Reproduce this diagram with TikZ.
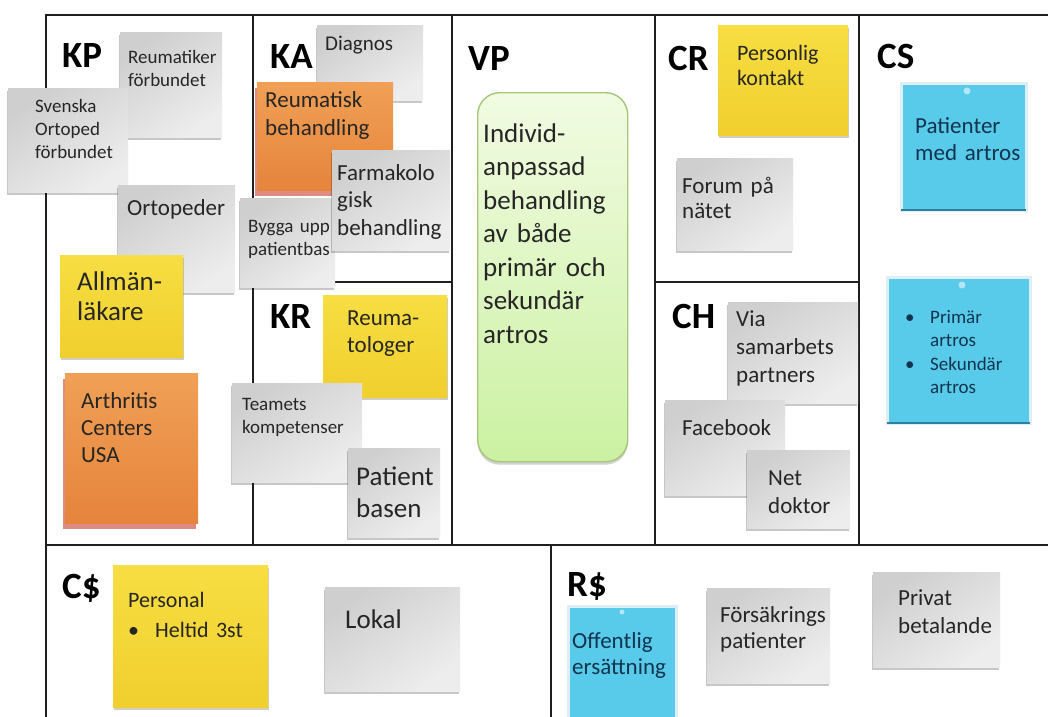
\documentclass[tikz,border=0pt]{standalone}
\usepackage{fontspec}
\setmainfont{Carlito}
\usetikzlibrary{shadows}

\definecolor{ink}{HTML}{262626}
\definecolor{bluetext}{HTML}{12344F}
\definecolor{yel}{HTML}{F7DE42}
\definecolor{yeldark}{HTML}{F0CF2E}
\definecolor{org}{HTML}{F0A056}
\definecolor{orgdark}{HTML}{E6843C}
\definecolor{orgshadow}{HTML}{C8402A}
\definecolor{sky}{HTML}{58CAEA}
\definecolor{skyedge}{HTML}{2F7FA0}
\definecolor{skyhalo}{HTML}{DDEEF4}
\definecolor{vptop}{HTML}{F1FBE2}
\definecolor{vpbottom}{HTML}{CBF1A2}
\definecolor{vpedge}{HTML}{A8C67A}

\newcommand\notefont[2]{\fontsize{#1}{#2}\selectfont}

\begin{document}
\begin{tikzpicture}[x=1pt, y=-1pt,
  gridline/.style={line width=2.8pt, draw=black!88, line cap=rect},
  note/.style={rectangle, anchor=north west, inner sep=0pt, outer sep=0pt},
  greynote/.style={note, top color=black!19, bottom color=black!7, shading angle=35,
    drop shadow={shadow xshift=-1pt, shadow yshift=-3pt, opacity=.22, fill=black}},
  yellownote/.style={note, top color=yel, bottom color=yeldark,
    drop shadow={shadow xshift=1pt, shadow yshift=-3pt, opacity=.35, fill=black!60!yellow}},
  orangenote/.style={note, top color=org, bottom color=orgdark,
    drop shadow={shadow xshift=-2pt, shadow yshift=-6pt, opacity=.6, fill=orgshadow}},
  bluenote/.style={note, fill=sky, draw=skyhalo, line width=3pt},
  blueedge/.style={draw=skyedge, line width=2pt},
  thumbtack/.style={circle, inner sep=0pt, minimum size=7pt, fill=white!55!sky},
  notetext/.style={anchor=base west, inner sep=0pt, text width=170pt, align=left, text=ink},
  bluetextnode/.style={notetext, text=bluetext},
  boxtitle/.style={anchor=base west, inner sep=0pt, font=\bfseries\notefont{37}{40}, text=black},
  vpbox/.style={rectangle, rounded corners=22pt, anchor=north west, inner sep=0pt,
    top color=vptop, bottom color=vpbottom, draw=vpedge, line width=1.4pt,
    drop shadow={shadow xshift=0pt, shadow yshift=-3pt, opacity=.18, fill=black}},
]
\useasboundingbox (0,0) rectangle (1048,716);
\fill[white] (0,0) rectangle (1048,716);

% canvas grid
\draw[gridline] (46,15) -- (1048,15);
\draw[gridline] (46,15) -- (46,716);
\draw[gridline] (46,545) -- (1048,545);
\draw[gridline] (253,15) -- (253,545);
\draw[gridline] (452,15) -- (452,545);
\draw[gridline] (655,15) -- (655,545);
\draw[gridline] (859,15) -- (859,545);
\draw[gridline] (253,282) -- (452,282);
\draw[gridline] (655,282) -- (859,282);
\draw[gridline] (551,545) -- (551,716);

% block titles
\node[boxtitle] (tKP) at (62,67) {KP};
\node[boxtitle] (tKA) at (270,68) {KA};
\node[boxtitle] (tVP) at (468,70) {VP};
\node[boxtitle] (tCR) at (668,70) {CR};
\node[boxtitle] (tCS) at (877,68) {CS};
\node[boxtitle] (tKR) at (270,328) {KR};
\node[boxtitle] (tCH) at (672,328) {CH};
\node[boxtitle] (tCC) at (62,598) {C\$};
\node[boxtitle] (tRR) at (567,596) {R\$};

% ---------- key partners
\node[greynote, minimum width=102pt, minimum height=105pt] (nReumF) at (120,32) {};
\node[notetext, font=\notefont{19}{23}] (xReumF) at (128,63) {Reumatiker\\förbundet};
\node[greynote, minimum width=120pt, minimum height=104pt] (nSvOrt) at (8,88) {};
\node[notetext, font=\notefont{19}{23}] (xSvOrt) at (35,112) {Svenska\\Ortoped\\förbundet};
\node[greynote, minimum width=117pt, minimum height=107pt] (nOrto) at (118,185) {};
\node[notetext, font=\notefont{23}{28}] (xOrto) at (127,215) {Ortopeder};
\node[yellownote, minimum width=123pt, minimum height=102pt] (nAllm) at (60,255) {};
\node[notetext, font=\notefont{27}{30}] (xAllm) at (77,290) {Allmän-\\läkare};
\node[orangenote, minimum width=133pt, minimum height=150pt] (nArth) at (65,373) {};
\node[notetext, font=\notefont{23}{27}] (xArth) at (81,408) {Arthritis\\Centers\\USA};

% ---------- key activities
\node[greynote, minimum width=106pt, minimum height=75pt] (nDiag) at (317,25) {};
\node[notetext, font=\notefont{21}{25}] (xDiag) at (325,50) {Diagnos};
\node[orangenote, minimum width=136pt, minimum height=108pt] (nReumB) at (257,82) {};
\node[notetext, font=\notefont{23}{28}] (xReumB) at (265,107) {Reumatisk\\behandling};
\node[greynote, minimum width=95pt, minimum height=89pt] (nBygga) at (240,198) {};
\node[notetext, font=\notefont{19}{23}] (xBygga) at (248,232) {Bygga upp\\patientbas};
\node[greynote, minimum width=118pt, minimum height=100pt] (nFarm) at (332,150) {};
\node[notetext, font=\notefont{23}{27.5}] (xFarm) at (337,180) {Farmakolo\\gisk\\behandling};

% ---------- key resources
\node[yellownote, minimum width=124pt, minimum height=102pt] (nReuma) at (323,295) {};
\node[notetext, font=\notefont{23}{27}] (xReuma) at (347,325) {Reuma-\\tologer};
\node[greynote, minimum width=130pt, minimum height=99pt] (nTeam) at (232,383) {};
\node[notetext, font=\notefont{19}{23}] (xTeam) at (242,410) {Teamets\\kompetenser};
\node[greynote, minimum width=92pt, minimum height=89pt] (nPatB) at (348,448) {};
\node[notetext, font=\notefont{27}{32}] (xPatB) at (356,485) {Patient\\basen};

% ---------- value proposition
\node[vpbox, minimum width=150pt, minimum height=369pt] (nVP) at (477,92) {};
\node[notetext, font=\notefont{27}{33.5}] (xVP) at (483,142)
  {Individ-\\anpassad\\behandling\\av både\\primär och\\sekundär\\artros};

% ---------- customer relationships
\node[yellownote, minimum width=130pt, minimum height=110pt] (nPers) at (718,25) {};
\node[notetext, font=\notefont{22}{25}] (xPers) at (737,60) {Personlig\\kontakt};
\node[greynote, minimum width=116pt, minimum height=92pt] (nForum) at (677,158) {};
\node[notetext, font=\notefont{23}{25}] (xForum) at (682,193) {Forum på\\nätet};

% ---------- channels
\node[greynote, minimum width=130pt, minimum height=101pt] (nVia) at (728,302) {};
\node[notetext, font=\notefont{23}{28}] (xVia) at (736,326) {Via\\samarbets\\partners};
\node[greynote, minimum width=120pt, minimum height=95pt] (nFace) at (665,400) {};
\node[notetext, font=\notefont{23}{28}] (xFace) at (682,435) {Facebook};
\node[greynote, minimum width=103pt, minimum height=78pt] (nNet) at (747,450) {};
\node[notetext, font=\notefont{23}{28}] (xNet) at (768,485) {Net\\doktor};

% ---------- customer segments
\node[bluenote, minimum width=125pt, minimum height=127pt] (nPat) at (901,83) {};
\draw[blueedge] (nPat.south west) -- (nPat.south east);
\node[thumbtack] (pinPat) at (967,91) {};
\node[bluetextnode, font=\notefont{23}{27}] (xPat) at (915,133) {Patienter\\med artros};
\node[bluenote, minimum width=143pt, minimum height=146pt] (nSeg) at (887,277) {};
\draw[blueedge] (nSeg.south west) -- (nSeg.south east);
\node[thumbtack] (pinSeg) at (962,285) {};
\node[bluetextnode, font=\notefont{19}{23.5}] (xSeg) at (905,323)
  {\makebox[25pt][l]{•}Primär\\\makebox[25pt][l]{}artros\\\makebox[25pt][l]{•}Sekundär\\\makebox[25pt][l]{}artros};

% ---------- cost structure
\node[yellownote, minimum width=155pt, minimum height=142pt] (nPersonal) at (113,565) {};
\node[notetext, font=\notefont{22}{30}] (xPersonal) at (128,607) {Personal\\\makebox[27pt][l]{•}Heltid 3st};
\node[greynote, minimum width=135pt, minimum height=104pt] (nLokal) at (325,587) {};
\node[notetext, font=\notefont{27}{30}] (xLokal) at (345,628) {Lokal};

% ---------- revenue streams
\node[bluenote, minimum width=108pt, minimum height=120pt] (nOff) at (568,606) {};
\node[thumbtack, minimum size=5pt] (pinOff) at (622,612) {};
\node[bluetextnode, font=\notefont{23}{26}] (xOff) at (572,648) {Offentlig\\ersättning};
\node[greynote, minimum width=123pt, minimum height=95pt] (nFors) at (707,588) {};
\node[notetext, font=\notefont{23}{26}] (xFors) at (720,622) {Försäkrings\\patienter};
\node[greynote, minimum width=127pt, minimum height=95pt] (nPriv) at (873,572) {};
\node[notetext, font=\notefont{23}{28}] (xPriv) at (898,605) {Privat\\betalande};
\end{tikzpicture}
\end{document}
